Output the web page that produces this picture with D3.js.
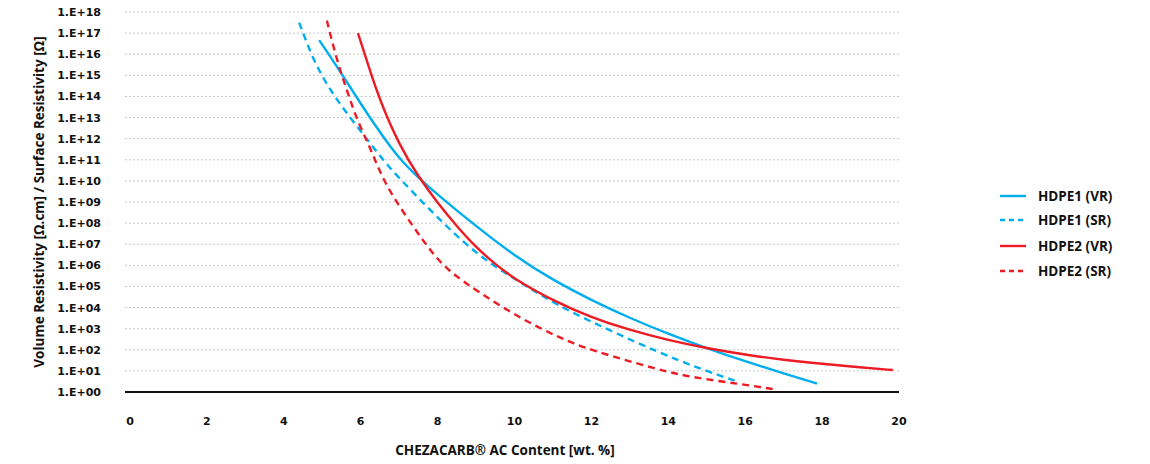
<!DOCTYPE html>
<html lang="en">
<head>
    <meta charset="UTF-8">
    <title>Resistivity vs CHEZACARB AC Content</title>
    <script src="https://d3js.org/d3.v7.min.js"></script>
    <style>
        body { margin: 0; background: #fff; }
        .tick-label { font: bold 11px "DejaVu Sans", sans-serif; fill: #111; }
        .title { font: bold 13.5px "Open Sans", sans-serif; fill: #111; }
        .legend-text { font: bold 13.5px "Open Sans", sans-serif; fill: #111; }
    </style>
</head>
<body>
    <svg width="1150" height="464"></svg>

    <script>
        // x = wt.% content, e = log10 of resistivity
        const hdpe1VR = {x: [4.92, 5.5, 6, 6.5, 7, 7.5, 8, 9, 10, 11, 12, 13, 14, 15, 16, 17, 17.87],
                         e: [16.67, 15.1, 13.65, 12.3, 11.05, 10.15, 9.35, 7.85, 6.45, 5.3, 4.35, 3.5, 2.75, 2.07, 1.45, 0.88, 0.4]};
        const hdpe1SR = {x: [4.4, 4.77, 5.2, 5.72, 6.24, 6.68, 7.37, 8.24, 9.1, 10.14, 11.18, 12.5, 13.78, 14.8, 15.75],
                         e: [17.5, 15.7, 14.3, 13.0, 11.8, 10.75, 9.43, 7.82, 6.4, 5.2, 4.03, 2.9, 1.85, 1.12, 0.52]};
        const hdpe2VR = {x: [5.93, 6.2, 6.5, 7, 7.5, 8, 8.5, 9, 9.5, 10, 11, 12, 13, 14, 15, 16, 17, 18, 19, 19.84],
                         e: [17.0, 15.45, 13.8, 11.7, 10.2, 8.95, 7.85, 6.85, 6.05, 5.35, 4.33, 3.53, 2.93, 2.45, 2.07, 1.77, 1.52, 1.33, 1.17, 1.04]};
        const hdpe2SR = {x: [5.12, 5.38, 5.64, 5.9, 6.24, 6.5, 6.84, 7.37, 7.8, 8.24, 9.1, 10.14, 11.18, 11.96, 13.78, 14.56, 15.86, 16.72],
                         e: [17.6, 15.7, 14.3, 12.9, 11.6, 10.4, 9.24, 7.82, 6.73, 5.78, 4.69, 3.5, 2.56, 1.99, 1.04, 0.71, 0.38, 0.14]};

        const seriesNames = ["HDPE1 (VR)", "HDPE1 (SR)", "HDPE2 (VR)", "HDPE2 (SR)"];
        const seriesData = [hdpe1VR, hdpe1SR, hdpe2VR, hdpe2SR];
        const seriesColors = ["#00aeef", "#00aeef", "#ed1c24", "#ed1c24"];
        const seriesDashed = [false, true, false, true];

        const xTicks = [0, 2, 4, 6, 8, 10, 12, 14, 16, 18, 20];
        const yExponents = d3.range(0, 19);

        const svg = d3.select("svg");

        const x = d3.scaleLinear().domain([0, 20]).range([130, 899]);
        const y = d3.scaleLog().domain([1, 1e18]).range([392, 12]);

        // grid lines
        svg.append("g")
            .selectAll("line")
            .data(yExponents.filter(d => d > 0))
            .enter().append("line")
            .attr("x1", x(0) - 5)
            .attr("x2", x(20))
            .attr("y1", d => y(Math.pow(10, d)))
            .attr("y2", d => y(Math.pow(10, d)))
            .style("stroke", "#c8c8c8")
            .style("stroke-width", 1)
            .style("stroke-dasharray", "2,2");

        // y tick labels
        svg.append("g")
            .selectAll("text")
            .data(yExponents)
            .enter().append("text")
            .attr("class", "tick-label")
            .attr("x", 101)
            .attr("y", d => y(Math.pow(10, d)))
            .attr("dy", "0.36em")
            .attr("text-anchor", "end")
            .text(d => "1.E+" + String(d).padStart(2, "0"));

        // x tick labels
        svg.append("g")
            .selectAll("text")
            .data(xTicks)
            .enter().append("text")
            .attr("class", "tick-label")
            .attr("x", d => x(d))
            .attr("y", 425)
            .attr("text-anchor", "middle")
            .text(d => d);

        // baseline
        svg.append("line")
            .attr("x1", x(0) - 5)
            .attr("x2", x(20))
            .attr("y1", y(1))
            .attr("y2", y(1))
            .style("stroke", "#111")
            .style("stroke-width", 2);

        const line = d3.line()
            .x(d => x(d[0]))
            .y(d => y(Math.pow(10, d[1])))
            .curve(d3.curveBasis);

        seriesData.forEach((s, i) => {
            const pts = s.x.map((v, j) => [v, s.e[j]]);
            svg.append("path")
                .datum(pts)
                .attr("d", line)
                .style("fill", "none")
                .style("stroke", seriesColors[i])
                .style("stroke-width", 2.4)
                .style("stroke-dasharray", seriesDashed[i] ? "7,5" : null);
        });

        // axis titles
        svg.append("text")
            .attr("class", "title")
            .attr("x", 505)
            .attr("y", 455)
            .attr("text-anchor", "middle")
            .text("CHEZACARB® AC Content [wt. %]");

        svg.append("text")
            .attr("class", "title")
            .attr("transform", "translate(44,202) rotate(-90)")
            .attr("text-anchor", "middle")
            .text("Volume Resistivity [Ω.cm] / Surface Resistivity [Ω]");

        // legend
        const legend = svg.append("g").attr("transform", "translate(1000,196)");
        seriesNames.forEach((name, i) => {
            const row = legend.append("g").attr("transform", `translate(0,${[0, 24, 50, 75][i]})`);
            row.append("line")
                .attr("x1", 0).attr("x2", 26)
                .attr("y1", 0).attr("y2", 0)
                .style("stroke", seriesColors[i])
                .style("stroke-width", 2.4)
                .style("stroke-dasharray", seriesDashed[i] ? "5,4" : null);
            row.append("text")
                .attr("class", "legend-text")
                .attr("x", 38)
                .attr("dy", "0.35em")
                .text(name);
        });
    </script>
</body>
</html>
